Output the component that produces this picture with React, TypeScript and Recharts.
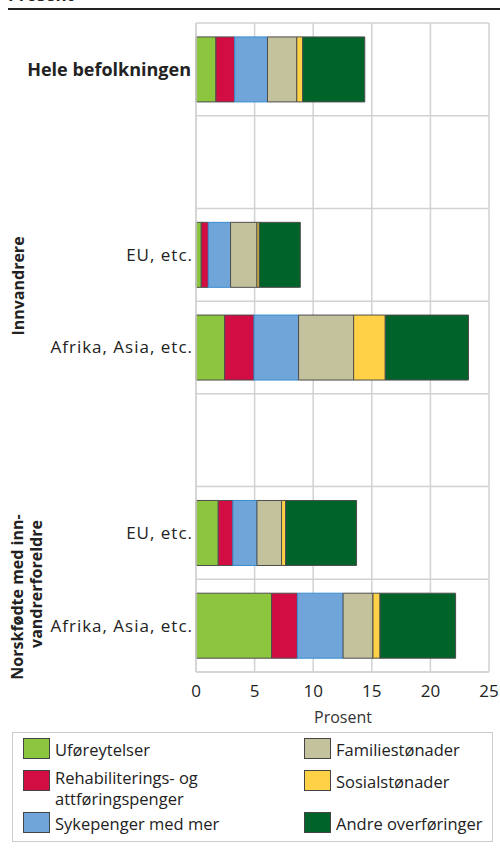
import { Bar, BarChart, CartesianGrid, XAxis, YAxis } from "recharts";

const FONT = "'Open Sans', sans-serif";

// rows top to bottom; blank ids are spacer rows between groups
const rowIds = ["hele", "gap1", "inn-eu", "inn-af", "gap2", "nf-eu", "nf-af"];
const rowLabels = ["Hele befolkningen", "", "EU, etc.", "Afrika, Asia, etc.", "", "EU, etc.", "Afrika, Asia, etc."];

const uforeytelser = [1.7, 0, 0.45, 2.45, 0, 1.9, 6.45];
const rehabilitering = [1.6, 0, 0.6, 2.5, 0, 1.25, 2.2];
const sykepenger = [2.8, 0, 1.9, 3.8, 0, 2.05, 3.9];
const familiestonader = [2.5, 0, 2.25, 4.7, 0, 2.1, 2.55];
const sosialstonader = [0.5, 0, 0.2, 2.7, 0, 0.35, 0.6];
const andre = [5.3, 0, 3.5, 7.1, 0, 6.05, 6.45];

const xTicks = [0, 5, 10, 15, 20, 25];

const series = [
  { key: "ufore", name: "Uføreytelser", values: uforeytelser, fill: "#8cc63f", stroke: "#4d4d4d" },
  { key: "rehab", name: "Rehabiliterings- og\nattføringspenger", values: rehabilitering, fill: "#d20d43", stroke: "#4d4d4d" },
  { key: "syke", name: "Sykepenger med mer", values: sykepenger, fill: "#6fa5d8", stroke: "#3a8cd0" },
  { key: "familie", name: "Familiestønader", values: familiestonader, fill: "#c4c19d", stroke: "#4d4d4d" },
  { key: "sosial", name: "Sosialstønader", values: sosialstonader, fill: "#fed146", stroke: "#4d4d4d" },
  { key: "andre", name: "Andre overføringer", values: andre, fill: "#006329", stroke: "#4d4d4d" },
];

const data = rowIds.map((id, i) => {
  const row: Record<string, string | number | null> = { id, label: rowLabels[i] };
  series.forEach((s) => {
    row[s.key] = rowLabels[i] ? s.values[i] : null;
  });
  return row;
});

const GRID = "#d2d2d2";

function RowTick({ x, y, payload }: any) {
  const i = rowIds.indexOf(payload.value);
  const label = rowLabels[i];
  if (!label) return null;
  const bold = i === 0;
  return (
    <text
      x={x + (bold ? 3 : 5)}
      y={y}
      dy="0.35em"
      textAnchor="end"
      fontFamily={FONT}
      fontSize={bold ? 18 : 17}
      fontWeight={bold ? 700 : 400}
      letterSpacing={bold ? 0 : 1}
      fill="#222"
    >
      {label}
    </text>
  );
}

// legend: two columns, left gets first three series
const legendCols = [series.slice(0, 3), series.slice(3)];

export default function App() {
  return (
    <div style={{ position: "absolute", left: 0, top: 0, width: 500, height: 850, background: "#fff", fontFamily: FONT, overflow: "hidden" }}>
      <div style={{ position: "absolute", left: 8, top: -15, fontSize: 17, fontWeight: 700, color: "#222", lineHeight: "20px" }}>
        Prosent
      </div>
      <div style={{ position: "absolute", left: 8, top: 8, width: 492, height: 2, background: "#222" }} />

      <BarChart
        width={500}
        height={850}
        data={data}
        layout="vertical"
        margin={{ top: 23, right: 11, bottom: 148, left: 0 }}
        barCategoryGap="15%"
      >
        <CartesianGrid
          stroke={GRID}
          strokeWidth={1.5}
          horizontalCoordinatesGenerator={({ offset }: any) =>
            rowIds.map((_, i) => offset.top + (i * offset.height) / rowIds.length).concat(offset.top + offset.height)
          }
        />
        <XAxis
          type="number"
          domain={[0, 25]}
          ticks={xTicks}
          height={30}
          tickLine={false}
          tickMargin={7}
          axisLine={{ stroke: GRID, strokeWidth: 1.5 }}
          tick={{ fontFamily: FONT, fontSize: 17, fill: "#222" }}
        />
        <YAxis
          type="category"
          dataKey="id"
          width={196}
          tickLine={false}
          axisLine={{ stroke: GRID, strokeWidth: 1.5 }}
          tick={<RowTick />}
          interval={0}
        />
        {series.map((s) => (
          <Bar
            key={s.key}
            dataKey={s.key}
            name={s.name}
            stackId="a"
            fill={s.fill}
            stroke={s.stroke}
            strokeWidth={1}
            isAnimationActive={false}
          />
        ))}
      </BarChart>

      <div style={{ position: "absolute", left: 343, top: 706, transform: "translateX(-50%)", fontSize: 16, color: "#333", whiteSpace: "nowrap" }}>
        Prosent
      </div>

      <div style={{ position: "absolute", left: 18, top: 286, transform: "translate(-50%, -50%) rotate(-90deg)", whiteSpace: "nowrap", fontSize: 16, fontWeight: 700, color: "#222" }}>
        Innvandrere
      </div>
      <div style={{ position: "absolute", left: 17, top: 597, transform: "translate(-50%, -50%) rotate(-90deg)", whiteSpace: "nowrap", fontSize: 16, fontWeight: 700, color: "#222" }}>
        Norskfødte med inn-
      </div>
      <div style={{ position: "absolute", left: 36, top: 584, transform: "translate(-50%, -50%) rotate(-90deg)", whiteSpace: "nowrap", fontSize: 16, fontWeight: 700, color: "#222" }}>
        vandrerforeldre
      </div>

      <div style={{ position: "absolute", left: 12, top: 732, width: 481, height: 110, border: "1px solid #ccc", boxSizing: "border-box" }}>
        {legendCols.map((col, ci) => (
          <div key={ci} style={{ position: "absolute", left: ci === 0 ? 10 : 291, top: 5 }}>
            {col.map((s, ri) => (
              <div key={s.key} style={{ position: "absolute", top: [0, 32, 74][ri], left: 0, display: "flex", alignItems: "flex-start" }}>
                <div style={{ width: 25, height: 19, background: s.fill, border: "1px solid #444", flexShrink: 0 }} />
                <div style={{ marginLeft: 5, fontSize: 16.5, lineHeight: "21px", color: "#222", whiteSpace: "pre", marginTop: s.name.includes("\n") ? -3 : 1 }}>
                  {s.name}
                </div>
              </div>
            ))}
          </div>
        ))}
      </div>
    </div>
  );
}
